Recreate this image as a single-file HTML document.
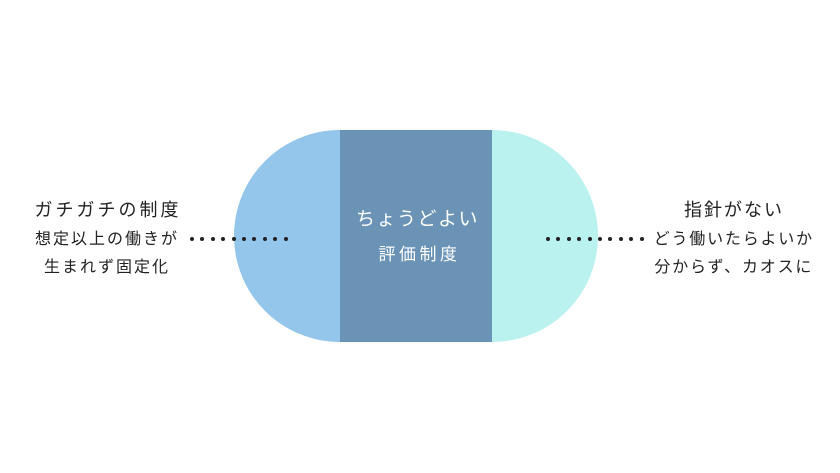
<!DOCTYPE html>
<html><head><meta charset="utf-8"><style>
body{margin:0;width:840px;height:473px;background:#fff;position:relative;overflow:hidden;font-family:"Liberation Sans","Noto Sans CJK JP",sans-serif;}
.a{position:absolute;white-space:nowrap;color:#222;text-align:center;line-height:1;}
.dot{position:absolute;width:4px;height:4px;border-radius:50%;background:#222;}
</style></head><body>
<div style="position:absolute;left:234px;top:130px;width:212px;height:212px;border-radius:50%;background:#93c6ea"></div>
<div style="position:absolute;left:386px;top:130px;width:212px;height:212px;border-radius:50%;background:#baf2f0"></div>
<div style="position:absolute;left:340px;top:130px;width:152px;height:212px;background:#6b93b6"></div>
<div class="a" style="left:340px;width:152px;top:210px;font-size:19px;letter-spacing:1.5px;padding-left:1.5px;color:#fff">ちょうどよい</div>
<div class="a" style="left:340px;width:152px;top:246px;font-size:17px;letter-spacing:3.5px;padding-left:3.5px;color:#fff">評価制度</div>
<div class="a" style="left:0;width:210px;top:201px;font-size:18px;letter-spacing:3px;padding-left:3px">ガチガチの制度</div>
<div class="a" style="left:0;width:210px;top:232px;font-size:16px;letter-spacing:2px;padding-left:2px">想定以上の働きが</div>
<div class="a" style="left:0;width:210px;top:260px;font-size:16px;letter-spacing:2px;padding-left:2px">生まれず固定化</div>
<div class="a" style="left:640px;width:184px;top:201px;font-size:18px;letter-spacing:2px;padding-left:2px">指針がない</div>
<div class="a" style="left:640px;width:184px;top:232px;font-size:16px;letter-spacing:1.8px;padding-left:1.8px">どう働いたらよいか</div>
<div class="a" style="left:640px;width:184px;top:260px;font-size:16px;letter-spacing:1.8px;padding-left:1.8px">分からず、カオスに</div>
<div class="dot" style="left:190px;top:237px"></div><div class="dot" style="left:200.4px;top:237px"></div><div class="dot" style="left:210.8px;top:237px"></div><div class="dot" style="left:221.2px;top:237px"></div><div class="dot" style="left:231.6px;top:237px"></div><div class="dot" style="left:242px;top:237px"></div><div class="dot" style="left:252.4px;top:237px"></div><div class="dot" style="left:262.8px;top:237px"></div><div class="dot" style="left:273.2px;top:237px"></div><div class="dot" style="left:283.6px;top:237px"></div>
<div class="dot" style="left:546px;top:237px"></div><div class="dot" style="left:556.4px;top:237px"></div><div class="dot" style="left:566.8px;top:237px"></div><div class="dot" style="left:577.2px;top:237px"></div><div class="dot" style="left:587.6px;top:237px"></div><div class="dot" style="left:598px;top:237px"></div><div class="dot" style="left:608.4px;top:237px"></div><div class="dot" style="left:618.8px;top:237px"></div><div class="dot" style="left:629.2px;top:237px"></div><div class="dot" style="left:639.6px;top:237px"></div>
</body></html>
